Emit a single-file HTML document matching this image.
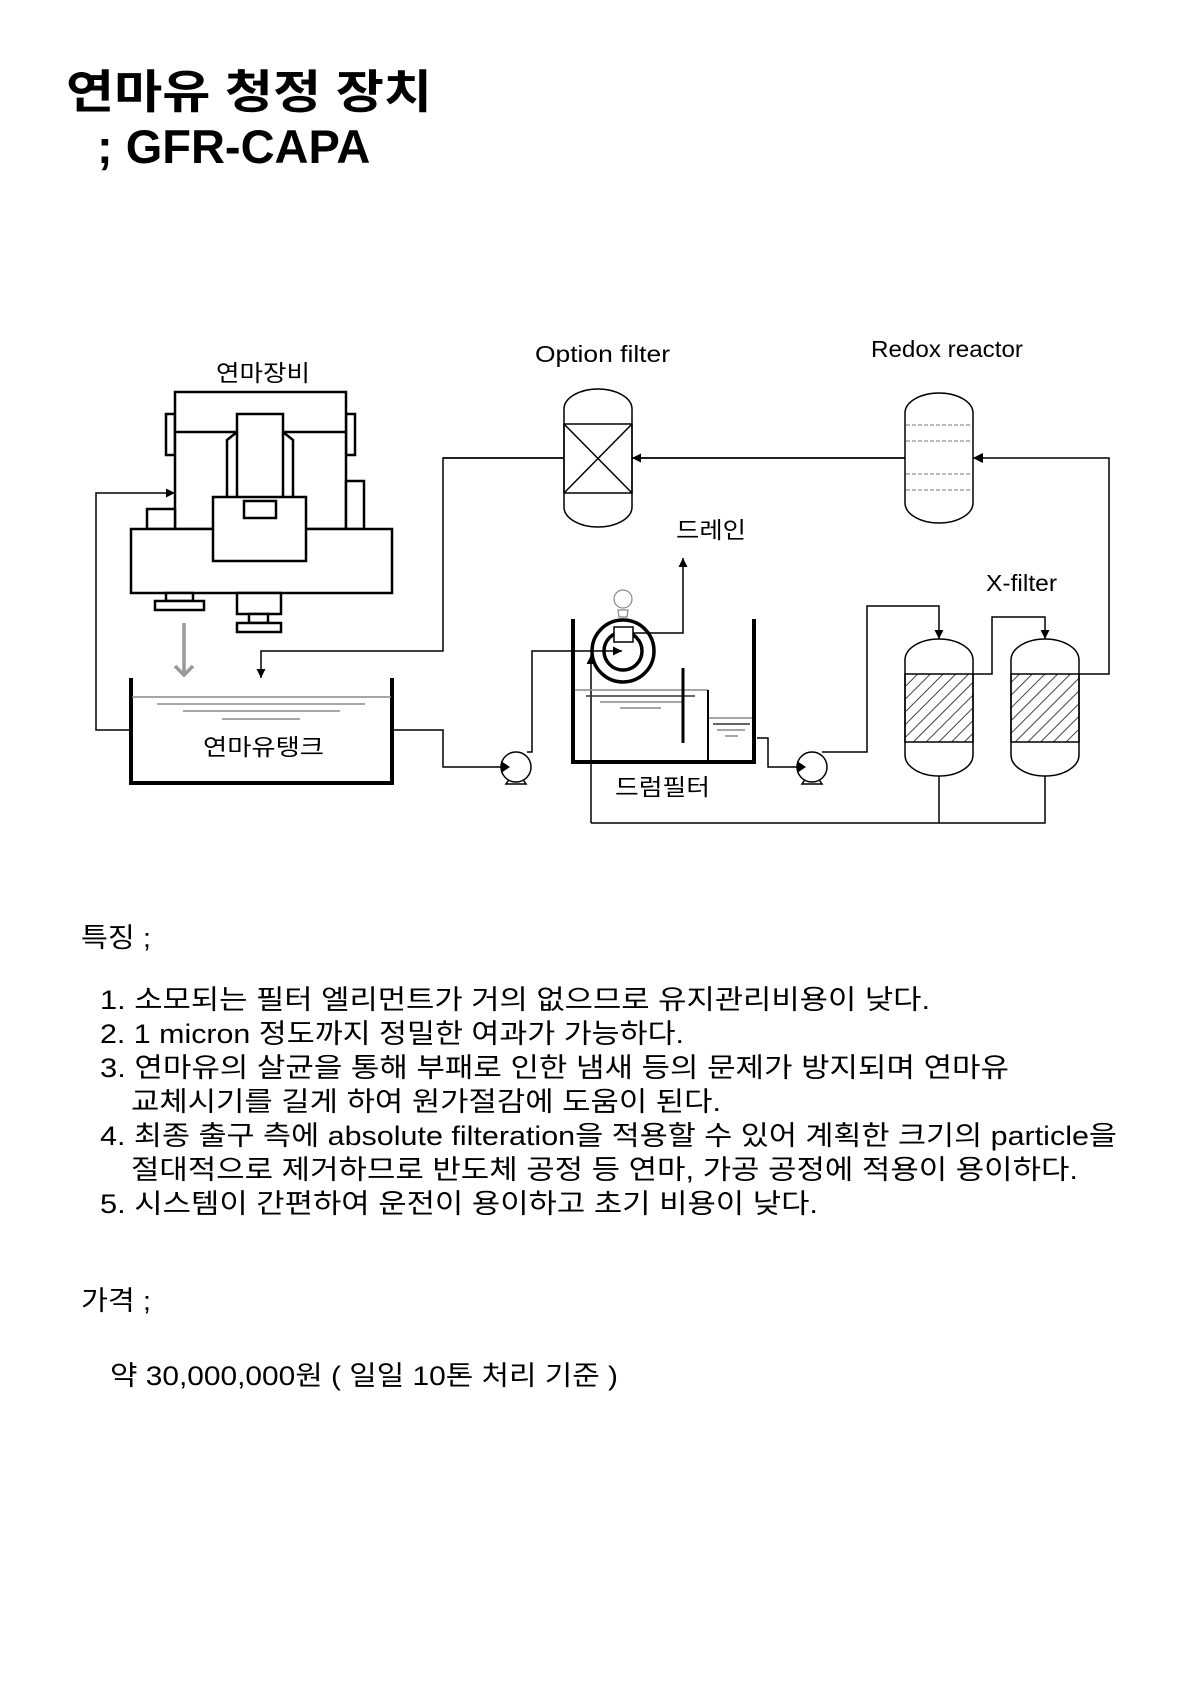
<!DOCTYPE html>
<html><head><meta charset="utf-8"><style>
html,body{margin:0;padding:0;background:#fff;}
svg{display:block;}
text{font-family:"Liberation Sans","Noto Sans CJK KR",sans-serif;fill:#000;}
</style></head><body>
<svg width="1190" height="1682" viewBox="0 0 1190 1682" xmlns="http://www.w3.org/2000/svg">
<defs>
<marker id="ah" viewBox="0 0 10 10" refX="10" refY="5" markerWidth="9" markerHeight="9" markerUnits="userSpaceOnUse" orient="auto"><path d="M0,0 L10,5 L0,10 Z" fill="#000"/></marker>
<pattern id="hatch" patternUnits="userSpaceOnUse" width="9" height="9" patternTransform="rotate(45)"><line x1="0" y1="0" x2="0" y2="9" stroke="#444" stroke-width="2"/></pattern>
</defs>

<text x="66" y="108" font-size="46" font-weight="bold" textLength="366" lengthAdjust="spacingAndGlyphs">연마유 청정 장치</text>
<text x="97" y="163" font-size="47" font-weight="bold">; GFR-CAPA</text>

<g font-size="23">
<text x="216" y="381" textLength="94" lengthAdjust="spacingAndGlyphs">연마장비</text>
<text x="203" y="755" textLength="121" lengthAdjust="spacingAndGlyphs">연마유탱크</text>
<text x="535" y="362" textLength="135" lengthAdjust="spacingAndGlyphs">Option filter</text>
<text x="871" y="357" textLength="152" lengthAdjust="spacingAndGlyphs">Redox reactor</text>
<text x="676" y="538" textLength="70" lengthAdjust="spacingAndGlyphs">드레인</text>
<text x="986" y="591" textLength="71" lengthAdjust="spacingAndGlyphs">X-filter</text>
<text x="615" y="795" textLength="95" lengthAdjust="spacingAndGlyphs">드럼필터</text>
</g>

<g fill="#fff" stroke="#000" stroke-width="2.5">
<rect x="166" y="414" width="9" height="41"/>
<rect x="346" y="414" width="9" height="41"/>
<rect x="175" y="392" width="171" height="137"/>
<line x1="175" y1="432" x2="346" y2="432"/>
<rect x="147" y="509" width="28" height="20"/>
<rect x="346" y="481" width="18" height="48"/>
<rect x="131" y="529" width="261" height="64"/>
<path d="M227,497 L227,440 L237,432 L283,432 L293,440 L293,497"/>
<rect x="237" y="414" width="46" height="86"/>
<rect x="213" y="497" width="93" height="64"/>
<rect x="244" y="501" width="32" height="17"/>
<rect x="166" y="593" width="27" height="8"/>
<rect x="155" y="601" width="49" height="9"/>
<rect x="237" y="593" width="44" height="21"/>
<rect x="249" y="614" width="19" height="9"/>
<rect x="237" y="623" width="44" height="9"/>
</g>
<g stroke="#999" stroke-width="3.5" fill="none"><line x1="184" y1="623" x2="184" y2="675"/><path d="M175,666 L184,675 L193,666"/></g>

<g stroke="#000" fill="none">
<path d="M131,678 L131,783 L392,783 L392,678" stroke-width="4"/>
</g>
<g stroke="#888" stroke-width="1.5">
<line x1="132" y1="697" x2="391" y2="697"/>
<line x1="157" y1="704" x2="365" y2="704"/>
<line x1="183" y1="711" x2="340" y2="711"/>
<line x1="222" y1="719" x2="300" y2="719"/>
</g>

<g stroke="#000" stroke-width="1.5" fill="none">
<polyline points="131,730 96,730 96,493 175,493" marker-end="url(#ah)"/>
<polyline points="564,458 443,458 443,651 261,651 261,678" marker-end="url(#ah)"/>
<polyline points="393,730 443,730 443,767 510,767" marker-end="url(#ah)"/>
<polyline points="527,752 532,752 532,651 622,651" marker-end="url(#ah)"/>
<polyline points="591,823 591,655" marker-end="url(#ah)"/>
<polyline points="633,633 683,633 683,558" marker-end="url(#ah)"/>
<polyline points="757,738 768,738 768,767 806,767" marker-end="url(#ah)"/>
<polyline points="822,752 867,752 867,606 939,606 939,639" marker-end="url(#ah)"/>
<polyline points="973,674 992,674 992,617 1045,617 1045,639" marker-end="url(#ah)"/>
<polyline points="1079,674 1109,674 1109,458 973,458" marker-end="url(#ah)"/>
<polyline points="905,458 632,458" marker-end="url(#ah)"/>
<polyline points="591,823 1045,823 1045,776"/>
<line x1="939" y1="776" x2="939" y2="823"/>
</g>

<g stroke="#000" stroke-width="1.5" fill="none">
<path d="M564,409 A34,20 0 0 1 632,409 L632,507 A34,20 0 0 1 564,507 Z" fill="#fff"/>
<rect x="564" y="424" width="68" height="69"/>
<line x1="564" y1="424" x2="632" y2="493"/><line x1="632" y1="424" x2="564" y2="493"/>
<line x1="564" y1="458" x2="443" y2="458"/>
<path d="M905,413 A34,20 0 0 1 973,413 L973,503 A34,20 0 0 1 905,503 Z" fill="#fff"/>
<line x1="905" y1="458" x2="632" y2="458"/>
</g>
<g stroke="#777" stroke-width="1" stroke-dasharray="4,2">
<line x1="906" y1="425" x2="972" y2="425"/><line x1="906" y1="441" x2="972" y2="441"/>
<line x1="906" y1="474" x2="972" y2="474"/><line x1="906" y1="490" x2="972" y2="490"/>
</g>
<path d="M973,458 l10,-5 v10 Z" fill="#000"/>

<g stroke="#000" stroke-width="1.5">
<path d="M905,660 A34,21 0 0 1 973,660 L973,755 A34,21 0 0 1 905,755 Z" fill="#fff"/>
<rect x="905" y="674" width="68" height="68" fill="url(#hatch)"/>
<path d="M1011,660 A34,21 0 0 1 1079,660 L1079,755 A34,21 0 0 1 1011,755 Z" fill="#fff"/>
<rect x="1011" y="674" width="68" height="68" fill="url(#hatch)"/>
</g>

<g stroke="#888" stroke-width="1.5">
<line x1="574" y1="690" x2="708" y2="690"/>
<line x1="586" y1="696" x2="695" y2="696" stroke="#333"/>
<line x1="600" y1="702" x2="682" y2="702"/>
<line x1="620" y1="708" x2="661" y2="708"/>
<line x1="708" y1="718" x2="754" y2="718"/>
<line x1="713" y1="724" x2="750" y2="724" stroke="#333"/>
<line x1="717" y1="730" x2="745" y2="730"/>
<line x1="725" y1="736" x2="738" y2="736"/>
</g>
<g stroke="#000" fill="none">
<path d="M573,619 L573,762 L754,762 L754,619" stroke-width="4"/>
<line x1="708" y1="690" x2="708" y2="762" stroke-width="2"/>
<line x1="683" y1="668" x2="683" y2="743" stroke-width="3"/>
<circle cx="623" cy="651" r="31" stroke-width="3.5"/>
<circle cx="623" cy="651" r="19" stroke-width="3.5"/>
</g>
<rect x="614" y="627" width="19" height="15" fill="#fff" stroke="#000" stroke-width="1.5"/>
<g stroke="#888" stroke-width="1.2" fill="#fff">
<path d="M619,617 L618,610 L628,610 L627,617 Z"/>
<circle cx="623" cy="599" r="9"/>
</g>

<g stroke="#000" stroke-width="1.5" fill="#fff">
<path d="M506,784 L510,778 L522,778 L526,784 Z"/>
<circle cx="516" cy="767" r="15"/>
<path d="M802,784 L806,778 L818,778 L822,784 Z"/>
<circle cx="812" cy="767" r="15"/>
</g>
<path d="M510,767 l-9,-6 v12 Z M806,767 l-9,-6 v12 Z" fill="#000"/>

<g font-size="27">
<text x="81" y="947" textLength="70" lengthAdjust="spacingAndGlyphs">특징 ;</text>
<text x="100" y="1009" textLength="830" lengthAdjust="spacingAndGlyphs">1. 소모되는 필터 엘리먼트가 거의 없으므로 유지관리비용이 낮다.</text>
<text x="100" y="1043" textLength="584" lengthAdjust="spacingAndGlyphs">2. 1 micron 정도까지 정밀한 여과가 가능하다.</text>
<text x="100" y="1077" textLength="909" lengthAdjust="spacingAndGlyphs">3. 연마유의 살균을 통해 부패로 인한 냄새 등의 문제가 방지되며 연마유</text>
<text x="131" y="1111" textLength="590" lengthAdjust="spacingAndGlyphs">교체시기를 길게 하여 원가절감에 도움이 된다.</text>
<text x="100" y="1145" textLength="1017" lengthAdjust="spacingAndGlyphs">4. 최종 출구 측에 absolute filteration을 적용할 수 있어 계획한 크기의 particle을</text>
<text x="131" y="1179" textLength="947" lengthAdjust="spacingAndGlyphs">절대적으로 제거하므로 반도체 공정 등 연마, 가공 공정에 적용이 용이하다.</text>
<text x="100" y="1213" textLength="718" lengthAdjust="spacingAndGlyphs">5. 시스템이 간편하여 운전이 용이하고 초기 비용이 낮다.</text>
<text x="81" y="1310" textLength="70" lengthAdjust="spacingAndGlyphs">가격 ;</text>
<text x="110" y="1385" textLength="508" lengthAdjust="spacingAndGlyphs">약 30,000,000원 ( 일일 10톤 처리 기준 )</text>
</g>
</svg>
</body></html>
